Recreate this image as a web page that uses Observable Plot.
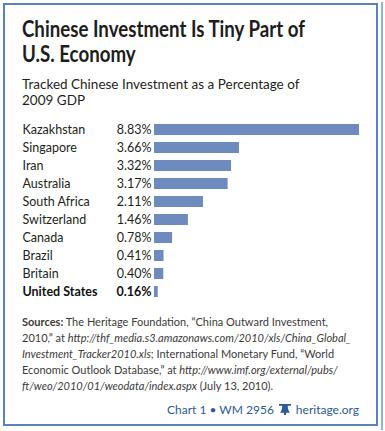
<!DOCTYPE html>
<html><head><meta charset="utf-8">
<script src="https://cdn.jsdelivr.net/npm/d3@7"></script>
<script src="https://cdn.jsdelivr.net/npm/@observablehq/plot@0.6"></script>
<style>
html,body{margin:0;padding:0;background:#fff;}
#page{position:relative;width:385px;height:431px;overflow:hidden;font-family:Lato,"Open Sans",sans-serif;color:#231f20;}
#frame{position:absolute;left:3px;top:3px;width:375px;height:423px;border:2px solid #5b82b9;box-sizing:border-box;}
#edge{position:absolute;left:381px;top:2px;width:2px;height:428px;background:#8fb2da;}
#title{position:absolute;left:22px;top:16px;font-family:Lato,sans-serif;font-weight:bold;font-size:22px;line-height:25px;color:#1d1d1b;white-space:nowrap;transform-origin:0 0;display:inline-block;}
#subtitle{position:absolute;left:22px;top:76px;font-size:13.5px;line-height:16px;white-space:nowrap;}
#chart{position:absolute;left:0;top:107px;}
#sources{position:absolute;left:22px;top:314px;font-size:11px;line-height:16px;color:#3b3b3b;white-space:nowrap;}
#sources i{font-style:italic;}
#footer{position:absolute;right:26px;top:402px;font-size:12px;color:#2d5a98;white-space:nowrap;}
#footer svg{vertical-align:-1px;margin:0 5px;}
</style></head>
<body><div id="page">
<div id="frame"></div>
<div id="edge"></div>
<div id="title">Chinese Investment Is Tiny Part of<br>U.S. Economy</div>
<div id="subtitle">Tracked Chinese Investment as a Percentage of<br>2009 GDP</div>
<div id="chart"></div>
<div id="sources"><b>Sources:</b> The Heritage Foundation, “China Outward Investment,<br>2010,” at <i>http://thf_media.s3.amazonaws.com/2010/xls/China_Global_</i><br><i>Investment_Tracker2010.xls</i>; International Monetary Fund, “World<br>Economic Outlook Database,” at <i>http://www.imf.org/external/pubs/</i><br><i>ft/weo/2010/01/weodata/index.aspx</i> (July 13, 2010).</div>
<div id="footer">Chart 1 • WM 2956<svg width="12" height="12" viewBox="0 0 11 11"><path d="M0 1h11v1.5H0z M3 2.5h5c0 3 1 5 2 6.5H1c1-1.5 2-3.5 2-6.5z M4.5 9h2v2h-2z" fill="#2d5a98"/></svg>heritage.org</div>
</div>
<script>
const countries = ["Kazakhstan","Singapore","Iran","Australia","South Africa","Switzerland","Canada","Brazil","Britain","United States"];
const values = [8.83,3.66,3.32,3.17,2.11,1.46,0.78,0.41,0.40,0.16];
const highlight = "United States";
const data = countries.map((c,i)=>({country:c,value:values[i]}));
const fmt = v => v.toFixed(2) + "%";
const plain = data.filter(d=>d.country!==highlight);
const bold = data.filter(d=>d.country===highlight);
const chart = Plot.plot({
  width:385, height:206,
  marginLeft:154, marginRight:26, marginTop:10, marginBottom:10,
  style:{fontFamily:"Lato, 'Open Sans', sans-serif", fontSize:"12.5px", color:"#231f20", background:"transparent"},
  x:{domain:[0, d3.max(values)], axis:null},
  y:{domain:countries, paddingInner:0.4, paddingOuter:0.2, axis:null},
  marks:[
    Plot.barX(data,{y:"country", x:"value", fill:"#6d8bbf"}),
    Plot.text(plain,{y:"country", text:"country", frameAnchor:"left", dx:-132, textAnchor:"start", fill:"#231f20"}),
    Plot.text(plain,{y:"country", x:0, text:d=>fmt(d.value), dx:-3, textAnchor:"end", fill:"#231f20"}),
    Plot.text(bold,{y:"country", text:"country", frameAnchor:"left", dx:-132, textAnchor:"start", fontWeight:"bold", fill:"#111"}),
    Plot.text(bold,{y:"country", x:0, text:d=>fmt(d.value), dx:-3, textAnchor:"end", fontWeight:"bold", fill:"#111"})
  ]
});
document.getElementById("chart").appendChild(chart);
const t = document.getElementById("title");
const w = t.getBoundingClientRect().width;
t.style.transform = `scaleX(${283 / w})`;
</script>
</body></html>
